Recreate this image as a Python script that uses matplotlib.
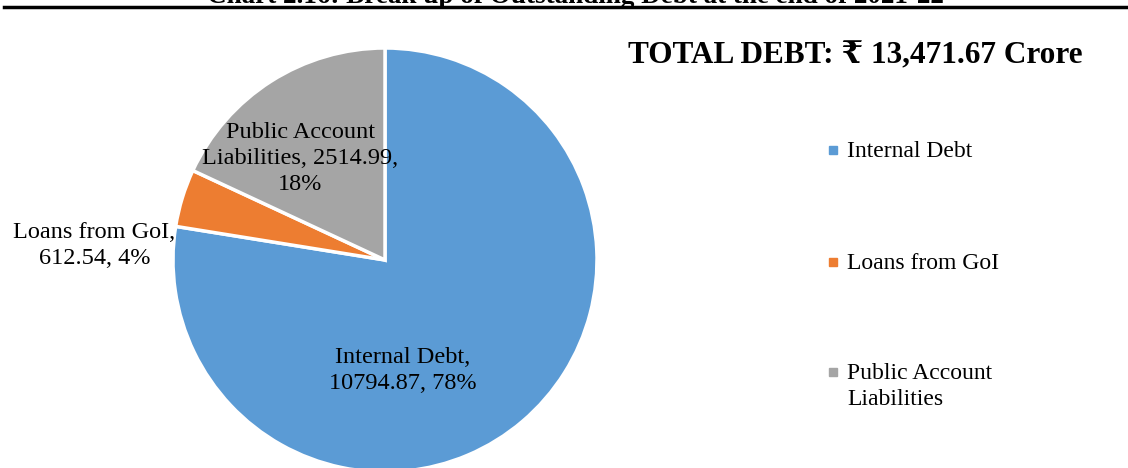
import matplotlib.pyplot as plt
from matplotlib.lines import Line2D

plt.rcParams['font.family'] = ['Liberation Serif', 'DejaVu Serif']

# data
categories = ['Internal Debt', 'Loans from GoI', 'Public Account\nLiabilities']
label_names = ['Internal Debt', 'Loans from GoI', 'Public Account Liabilities']
values = [10794.87, 612.54, 2514.99]
colors = ['#5B9BD5', '#ED7D31', '#A5A5A5']
total_text = 'TOTAL DEBT: \u20b9 13,471.67 Crore'
chart_title = 'Chart 2.16: Break up of Outstanding Debt at the end of 2021-22'

W, H = 1128, 468
fig = plt.figure(figsize=(W / 100, H / 100), dpi=100)

# pie axes: centre ~ (385, 260) px, radius ~212 px
ax = fig.add_axes([173 / W, (H - 472) / H, 424 / W, 424 / H])
wedges, _ = ax.pie(values, colors=colors, startangle=90, counterclock=False,
                   wedgeprops=dict(edgecolor='white', linewidth=2.5))
ax.set_xlim(-1, 1)
ax.set_ylim(-1, 1)
ax.set_aspect('equal')
for w in wedges:
    w.set_clip_on(False)

# data labels (Excel style "name, value, pct")
total = sum(values)
pcts = [round(v / total * 100) for v in values]
lbl_text = [
    f'{label_names[0]},\n{values[0]:.2f}, {pcts[0]}%',
    f'{label_names[1]},\n{values[1]:.2f}, {pcts[1]}%',
    f'Public Account\nLiabilities, {values[2]:.2f},\n{pcts[2]}%',
]
lbl_pos = [(0.085, -0.52), (-1.37, 0.07), (-0.40, 0.48)]
for t, (x, y) in zip(lbl_text, lbl_pos):
    ax.text(x, y, t, ha='center', va='center', fontsize=17.5, linespacing=1.3,
            clip_on=False)

# legend, marker next to first line of each entry
leg_y = [150, 262, 372]
for c, name, y in zip(colors, categories, leg_y):
    fig.add_artist(Line2D([833 / W], [1 - y / H], marker='s', markersize=5.5,
                          linestyle='none', color=c))
    fig.text(847 / W, 1 - (y - 9) / H, name, ha='left', va='top',
             fontsize=17, linespacing=1.3)

# total debt heading
fig.text(855 / W, 1 - 56 / H, total_text, ha='center', va='center',
         fontsize=22.5, fontweight='bold')

# cut-off chart title and rule
fig.text(575 / W, 1 - 3 / H, chart_title, ha='center', va='baseline',
         fontsize=19.5, fontweight='bold')
fig.add_artist(Line2D([4 / W, 1], [1 - 7 / H, 1 - 7 / H],
                      color='black', linewidth=2.5))

fig.savefig('out.png', dpi=100)
